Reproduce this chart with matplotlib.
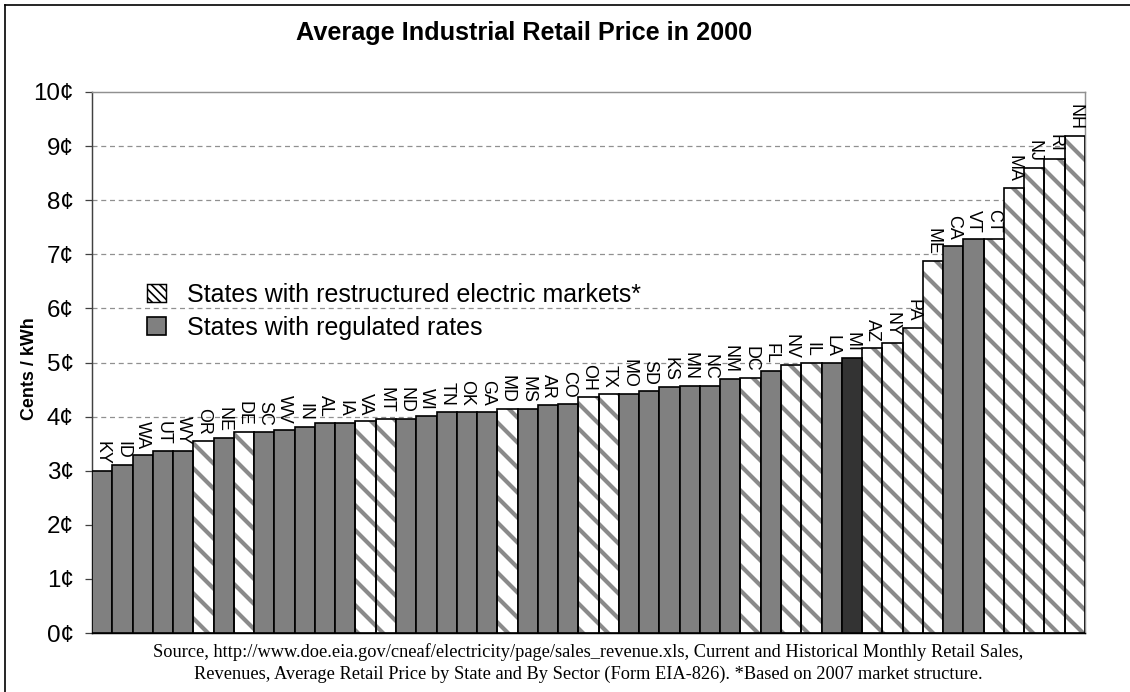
import matplotlib
matplotlib.use("Agg")
import matplotlib.pyplot as plt
from matplotlib.patches import Patch
from matplotlib.lines import Line2D

# states sorted by price, 2000 industrial retail price (cents/kWh)
states = ['KY', 'ID', 'WA', 'UT', 'WY', 'OR', 'NE', 'DE', 'SC', 'WV',
          'IN', 'AL', 'IA', 'VA', 'MT', 'ND', 'WI', 'TN', 'OK', 'GA',
          'MD', 'MS', 'AR', 'CO', 'OH', 'TX', 'MO', 'SD', 'KS', 'MN',
          'NC', 'NM', 'DC', 'FL', 'NV', 'IL', 'LA', 'MI', 'AZ', 'NY',
          'PA', 'ME', 'CA', 'VT', 'CT', 'MA', 'NJ', 'RI', 'NH']
prices = [3.00, 3.11, 3.29, 3.36, 3.36, 3.54, 3.60, 3.72, 3.72, 3.75,
          3.81, 3.88, 3.88, 3.91, 3.96, 3.96, 4.02, 4.08, 4.08, 4.08,
          4.14, 4.14, 4.21, 4.23, 4.36, 4.41, 4.41, 4.48, 4.54, 4.57,
          4.57, 4.69, 4.72, 4.85, 4.96, 4.99, 4.99, 5.09, 5.27, 5.36,
          5.64, 6.88, 7.15, 7.29, 7.29, 8.22, 8.59, 8.77, 9.19]
restructured = ['OR', 'DE', 'VA', 'MT', 'MD', 'OH', 'TX', 'DC', 'NV', 'IL',
                'AZ', 'NY', 'PA', 'ME', 'CT', 'MA', 'NJ', 'RI', 'NH']
highlight = ['MI']

yticks = list(range(11))
ytick_labels = [f'{v}\u00a2' for v in yticks]

title = 'Average Industrial Retail Price in 2000'
ylabel = 'Cents / kWh'
source = ('Source, http://www.doe.eia.gov/cneaf/electricity/page/sales_revenue.xls, '
          'Current and Historical Monthly Retail Sales,\n'
          'Revenues, Average Retail Price by State and By Sector (Form EIA-826). '
          '*Based on 2007 market structure.')

W, H, DPI = 1130, 692, 150
plt.rcParams['font.family'] = ['Liberation Sans', 'DejaVu Sans']
plt.rcParams['hatch.linewidth'] = 2.0

fig = plt.figure(figsize=(W / DPI, H / DPI), dpi=DPI)
ax = fig.add_axes([92 / W, 1 - 633 / H, (1085 - 92) / W, (633 - 92) / H])

for i, (s, p) in enumerate(zip(states, prices)):
    if s in restructured:
        ax.bar(i, p, width=1.0, color='white', edgecolor='#8a8a8a',
               hatch='\\\\', linewidth=0, zorder=2)
        ax.bar(i, p, width=1.0, fill=False, edgecolor='black',
               linewidth=0.8, zorder=3)
    else:
        fc = '#333333' if s in highlight else '#808080'
        ax.bar(i, p, width=1.0, color=fc, edgecolor='black',
               linewidth=0.8, zorder=3)
    ax.annotate(s, (i, p), xytext=(0, 3), textcoords='offset points',
                rotation=-90, ha='center', va='bottom', fontsize=8.6)

ax.set_xlim(-0.5, len(states) - 0.5)
ax.set_ylim(0, 10)
ax.set_xticks([])
ax.set_yticks(yticks)
ax.set_yticklabels(ytick_labels, fontsize=11.6)
ax.tick_params(axis='y', direction='out', length=3.6, width=0.6,
               color='#404040', pad=5.2)
for v in yticks[1:-1]:
    ax.axhline(v, color='#909090', linewidth=0.6, dashes=(4, 3), zorder=1)

ax.spines['left'].set_color('#404040')
ax.spines['bottom'].set_color('black')
ax.spines['top'].set_color('#909090')
ax.spines['right'].set_color('#909090')
for sp in ax.spines.values():
    sp.set_linewidth(0.7)

handles = [Patch(facecolor='white', edgecolor='black', hatch='\\\\\\\\\\\\',
                 linewidth=0.7),
           Patch(facecolor='#808080', edgecolor='black', linewidth=0.8)]
leg = ax.legend(handles, ['States with restructured electric markets*',
                          'States with regulated rates'],
                loc='upper left', bbox_to_anchor=(147 / W, 1 - 283 / H),
                bbox_transform=fig.transFigure, frameon=False, fontsize=12.0,
                handlelength=0.75, handleheight=0.75, handletextpad=0.85,
                labelspacing=0.35, borderpad=0, borderaxespad=0)
for h in leg.legend_handles:
    if hasattr(h, 'set_hatch_linewidth'):
        h.set_hatch_linewidth(0.8)

fig.text(524 / W, 1 - 33 / H, title, ha='center', va='center',
         fontsize=12.1, fontweight='bold')
fig.text(30 / W, 1 - 369 / H, ylabel, ha='center', va='center',
         rotation=90, fontsize=8.6, fontweight='bold')
fig.text(588 / W, 1 - 663 / H, source, ha='center', va='center',
         fontsize=8.8, family='Liberation Serif', linespacing=1.35)

# outer frame
fig.add_artist(Line2D([5 / W, 5 / W], [0, 1 - 5 / H], color='black',
                      linewidth=0.8, transform=fig.transFigure))
fig.add_artist(Line2D([5 / W, 1], [1 - 5 / H, 1 - 5 / H], color='black',
                      linewidth=0.8, transform=fig.transFigure))

fig.savefig('out.png', dpi=DPI)
